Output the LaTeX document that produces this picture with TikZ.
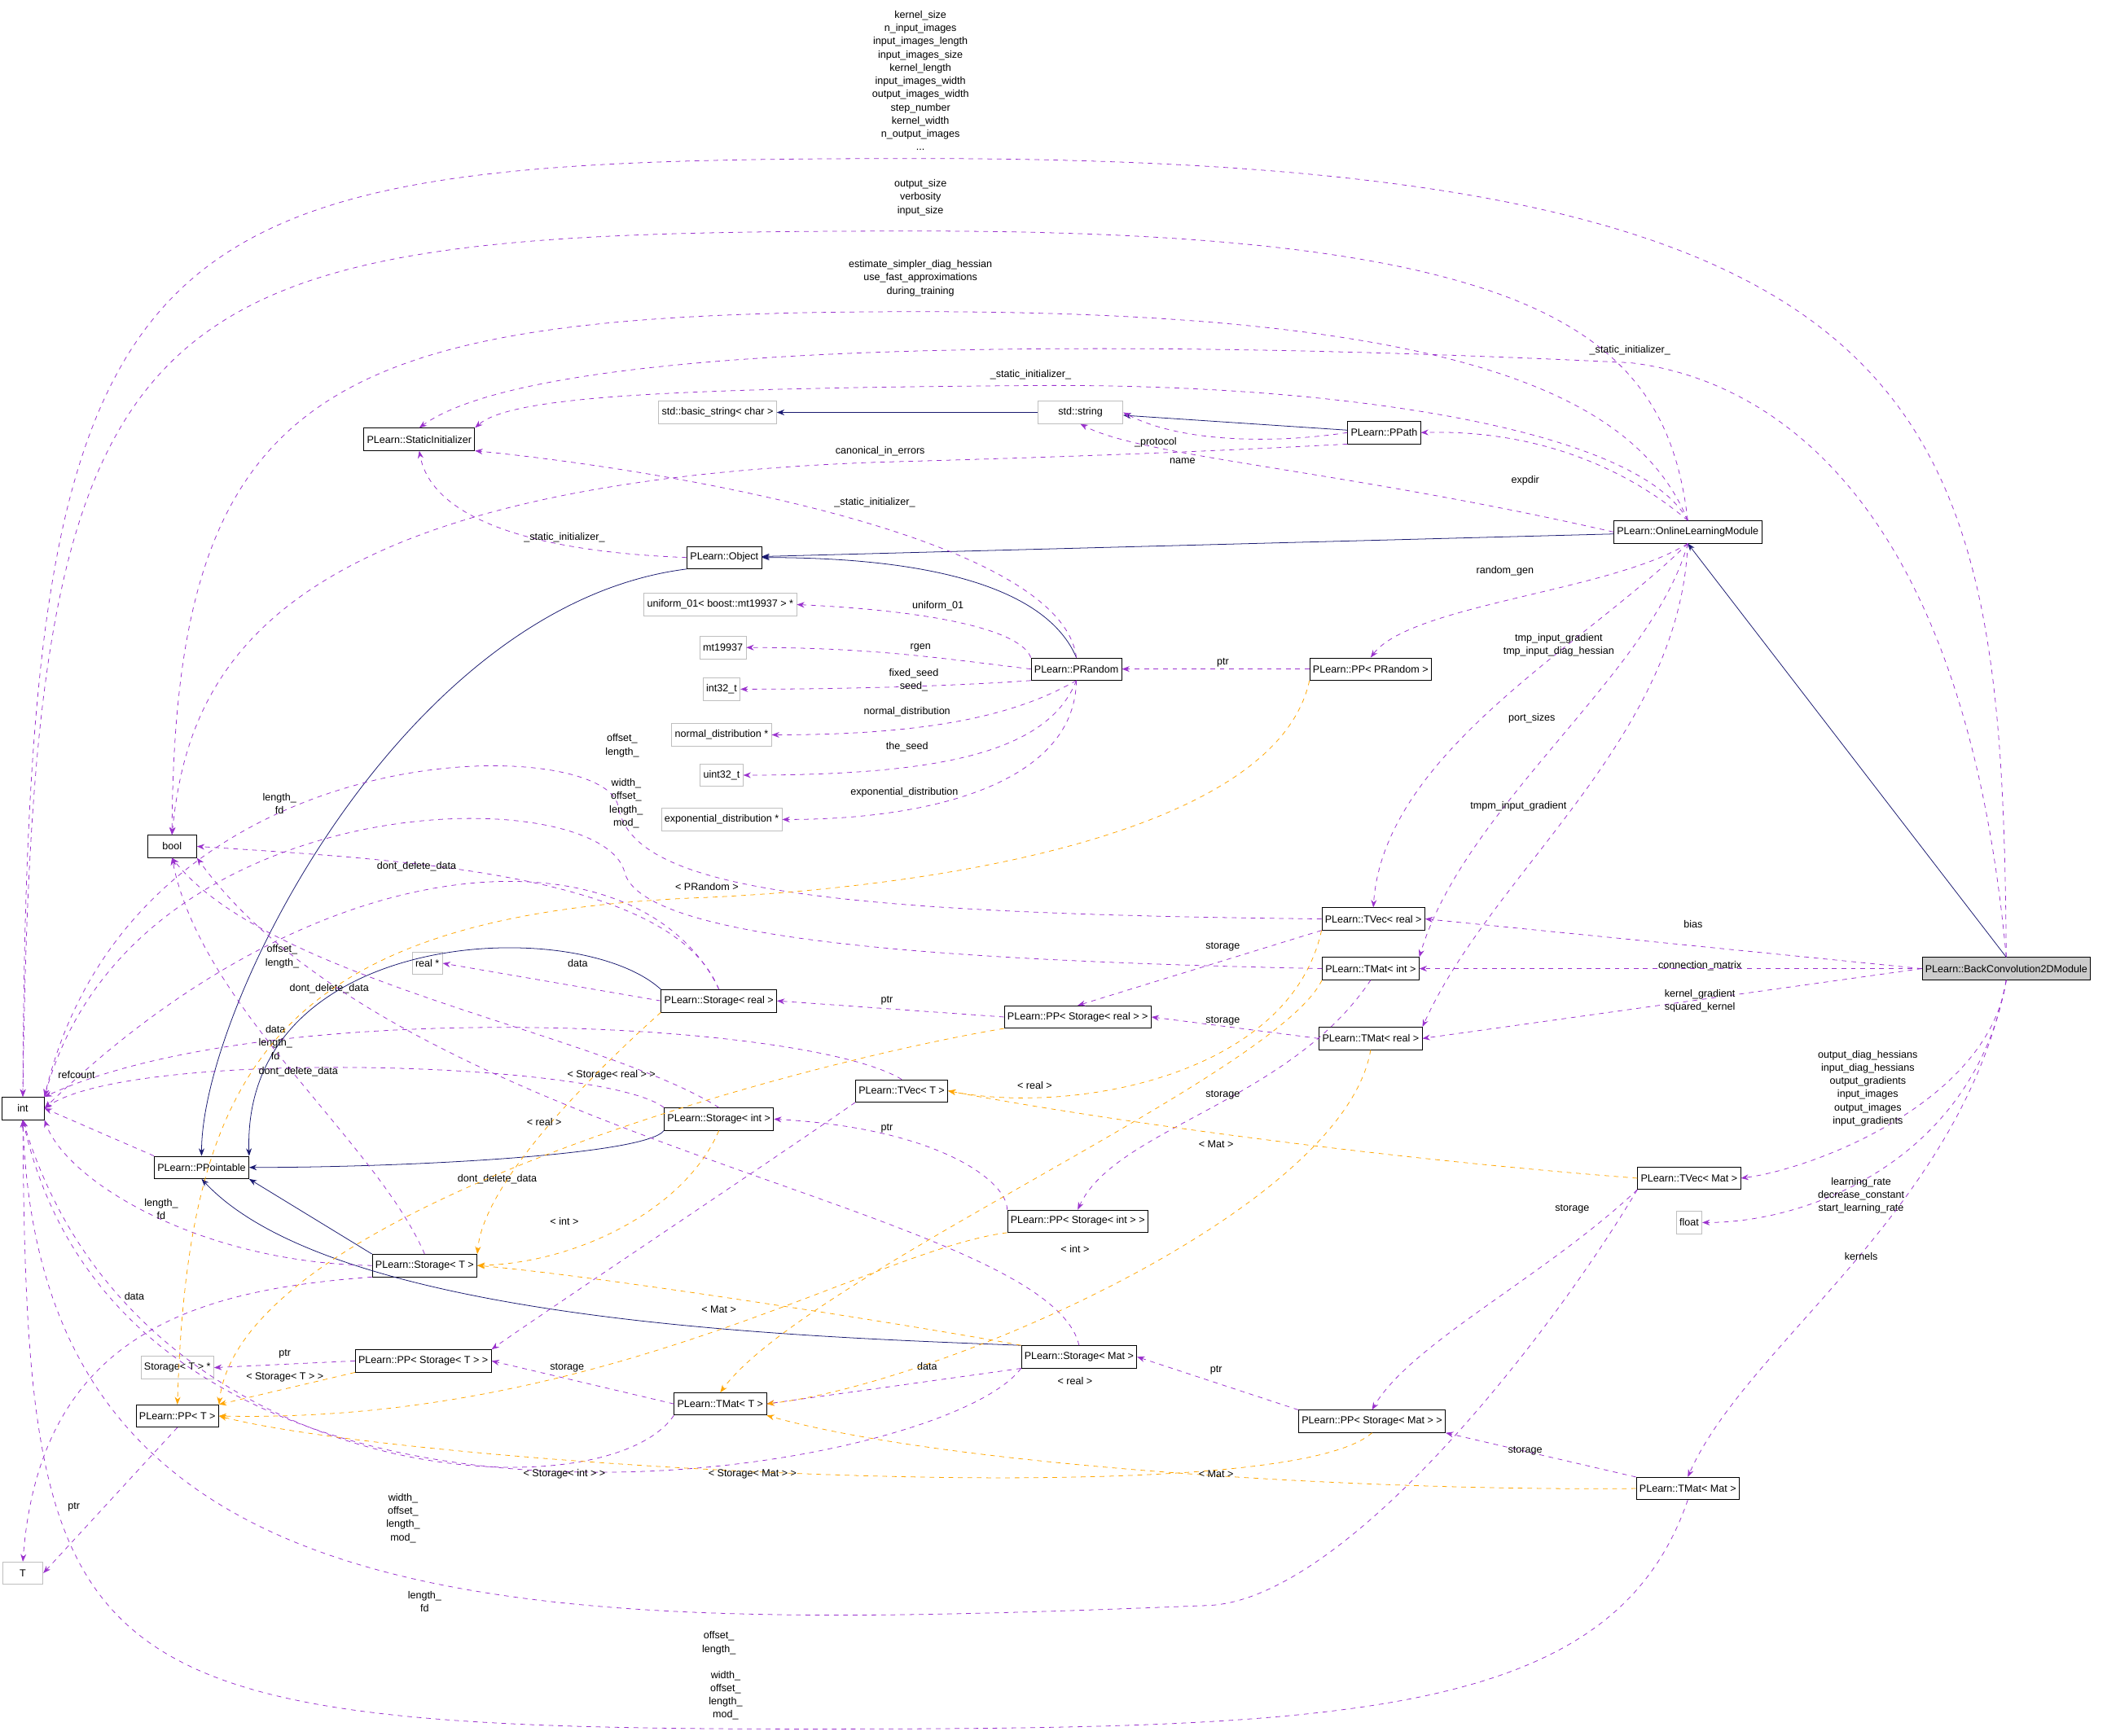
\documentclass[tikz,border=0pt]{standalone}
\usepackage{fontspec}
\setmainfont{Liberation Sans}
\usetikzlibrary{arrows.meta}
\definecolor{usecol}{HTML}{9A32CD}
\definecolor{inhcol}{HTML}{191970}
\definecolor{tplcol}{HTML}{FFA500}
\tikzstyle{box}=[draw, fill=white, font=\fontsize{6.5}{8}\selectfont, inner sep=2pt, minimum height=0.5cm]
\tikzstyle{gbox}=[box, draw=gray!50]
\tikzstyle{lbl}=[font=\fontsize{6.5}{8.4}\selectfont, align=center, inner sep=0pt]
\tikzstyle{inh}=[draw=inhcol, -{Stealth[inhcol]}]
\tikzstyle{use}=[draw=usecol, dashed, -{Stealth[usecol]}]
\tikzstyle{tpl}=[draw=tplcol, dashed, -{Stealth[tplcol]}]

\begin{document}
\begin{tikzpicture}[x=0.03cm, y=-0.03cm]
\useasboundingbox (0,0) rectangle (1568,1292);
% nodes
\node[box, minimum width=0.95cm] (int) at (17,825) {int};
\node[gbox, minimum width=0.9cm] (T) at (17,1171) {T};
\node[box, minimum width=1.1cm] (bool) at (128,630) {bool};
\node[box] (si) at (312,327) {PLearn::StaticInitializer};
\node[gbox] (bstr) at (534,307) {std::basic\_string< char >};
\node[gbox, minimum width=1.9cm] (str) at (804,307) {std::string};
\node[box] (ppath) at (1030,322) {PLearn::PPath};
\node[box] (olm) at (1256,396) {PLearn::OnlineLearningModule};
\node[box] (obj) at (539,415) {PLearn::Object};
\node[gbox] (unif) at (536,450) {uniform\_01< boost::mt19937 > *};
\node[gbox] (mt) at (538,482) {mt19937};
\node[gbox] (i32) at (537,513) {int32\_t};
\node[gbox] (nd) at (537,547) {normal\_distribution *};
\node[gbox] (u32) at (537,577) {uint32\_t};
\node[gbox] (ed) at (537,610) {exponential\_distribution *};
\node[box] (prand) at (801,498) {PLearn::PRandom};
\node[box] (pprand) at (1020,498) {PLearn::PP< PRandom >};
\node[box] (tvr) at (1022,684) {PLearn::TVec< real >};
\node[box] (tmi) at (1020,721) {PLearn::TMat< int >};
\node[box, fill=gray!40] (bc) at (1493,721) {PLearn::BackConvolution2DModule};
\node[box] (tmr) at (1020,773) {PLearn::TMat< real >};
\node[gbox] (realp) at (318,717) {real *};
\node[box] (sr) at (535,745) {PLearn::Storage< real >};
\node[box] (pssr) at (802,757) {PLearn::PP< Storage< real > >};
\node[box] (tvt) at (671,812) {PLearn::TVec< T >};
\node[box] (sint) at (535,833) {PLearn::Storage< int >};
\node[box] (ppt) at (150,869) {PLearn::PPointable};
\node[box] (tvm) at (1257,877) {PLearn::TVec< Mat >};
\node[gbox] (flt) at (1257,910) {float};
\node[box] (pssi) at (802,909) {PLearn::PP< Storage< int > >};
\node[box] (st) at (316,942) {PLearn::Storage< T >};
\node[gbox] (stp) at (132,1018) {Storage< T > *};
\node[box] (psst) at (315,1013) {PLearn::PP< Storage< T > >};
\node[box] (ppT) at (132,1054) {PLearn::PP< T >};
\node[box] (sm) at (803,1010) {PLearn::Storage< Mat >};
\node[box] (tmt) at (536,1045) {PLearn::TMat< T >};
\node[box] (pssm) at (1021,1058) {PLearn::PP< Storage< Mat > >};
\node[box] (tmm) at (1256,1108) {PLearn::TMat< Mat >};
% inheritance
\draw[inh] (str) -- (bstr);
\draw[inh] (ppath) -- (str);
\draw[inh] (olm) -- (obj);
\draw[inh] (bc.north) -- (olm.south);
\draw[inh] (prand.north) .. controls (780,440) and (700,415) .. (obj.east);
\draw[inh] (obj.south west) .. controls (300,450) and (150,750) .. (ppt.north);
\draw[inh] (sr.north west) .. controls (430,680) and (180,690) .. (ppt.north east);
\draw[inh] (sint.south west) .. controls (480,860) and (300,869) .. (ppt.east);
\draw[inh] (st.north west) -- (ppt.south east);
\draw[inh] (sm.north west) .. controls (600,995) and (250,985) .. (ppt.south);
% members
\draw[use] (bc.north) .. controls (1490,300) and (1450,118) .. (685,118) .. controls (100,118) and (20,150) .. (int.north)
  node[lbl, at={(685,60)}] {kernel\_size\\n\_input\_images\\input\_images\_length\\input\_images\_size\\kernel\_length\\input\_images\_width\\output\_images\_width\\step\_number\\kernel\_width\\n\_output\_images\\...};
\draw[use] (olm.north) .. controls (1240,250) and (1150,172) .. (685,172) .. controls (100,172) and (25,200) .. (int.north)
  node[lbl, at={(685,147)}] {output\_size\\verbosity\\input\_size};
\draw[use] (olm.north) .. controls (1220,300) and (1100,232) .. (685,232) .. controls (250,232) and (130,280) .. (bool.north)
  node[lbl, at={(685,207)}] {estimate\_simpler\_diag\_hessian\\use\_fast\_approximations\\during\_training};
\draw[use] (bc.north) .. controls (1460,350) and (1300,280) .. (1213,270) .. controls (800,250) and (400,255) .. (si.north)
  node[lbl, at={(1213,261)}] {\_static\_initializer\_};
\draw[use] (olm.north) .. controls (1220,320) and (1000,285) .. (767,287) .. controls (500,289) and (380,295) .. (si.north east)
  node[lbl, at={(767,279)}] {\_static\_initializer\_};
\draw[use] (ppath.west) .. controls (950,330) and (880,330) .. (str.east) node[lbl, at={(860,329)}] {\_protocol};
\draw[use] (ppath.south west) .. controls (900,336) and (800,340) .. (655,344) .. controls (200,360) and (140,500) .. (bool.north)
  node[lbl, at={(655,336)}] {canonical\_in\_errors};
\draw[use] (olm.west) .. controls (1000,350) and (850,340) .. (str.south) node[lbl, at={(880,343)}] {name};
\draw[use] (olm.north) .. controls (1200,340) and (1130,320) .. (ppath.east) node[lbl, at={(1135,358)}] {expdir};
\draw[use] (prand.north) .. controls (790,400) and (500,350) .. (si.south east) node[lbl, at={(651,374)}] {\_static\_initializer\_};
\draw[use] (obj.west) .. controls (380,410) and (320,380) .. (si.south) node[lbl, at={(420,400)}] {\_static\_initializer\_};
\draw[use] (olm.south) .. controls (1200,440) and (1050,450) .. (pprand.north) node[lbl, at={(1120,425)}] {random\_gen};
\draw[use] (prand.north west) .. controls (760,470) and (700,455) .. (unif.east) node[lbl, at={(698,451)}] {uniform\_01};
\draw[use] (prand.west) .. controls (700,490) and (650,482) .. (mt.east) node[lbl, at={(685,482)}] {rgen};
\draw[use] (prand.south west) .. controls (720,510) and (640,513) .. (i32.east) node[lbl, at={(680,506)}] {fixed\_seed\\seed\_};
\draw[use] (prand.south) .. controls (760,530) and (700,547) .. (nd.east) node[lbl, at={(675,530)}] {normal\_distribution};
\draw[use] (prand.south) .. controls (780,560) and (700,577) .. (u32.east) node[lbl, at={(675,556)}] {the\_seed};
\draw[use] (prand.south) .. controls (800,580) and (700,610) .. (ed.east) node[lbl, at={(673,590)}] {exponential\_distribution};
\draw[use] (pprand) -- (prand) node[lbl, at={(910,493)}] {ptr};
\draw[use] (olm.south) .. controls (1180,480) and (1030,560) .. (tvr.north) node[lbl, at={(1160,480)}] {tmp\_input\_gradient\\tmp\_input\_diag\_hessian};
\draw[use] (olm.south) .. controls (1230,500) and (1090,600) .. (tmi.north east) node[lbl, at={(1140,535)}] {port\_sizes};
\draw[use] (olm.south) .. controls (1250,550) and (1110,650) .. (tmr.north east) node[lbl, at={(1130,600)}] {tmpm\_input\_gradient};
\draw[use] (tvr.west) .. controls (600,680) and (470,660) .. (460,600) .. controls (450,545) and (100,540) .. (int.north east)
  node[lbl, at={(463,555)}] {offset\_\\length\_};
\draw[use] (tmi.west) .. controls (700,715) and (480,700) .. (465,650) .. controls (450,580) and (100,580) .. (int.north east)
  node[lbl, at={(466,598)}] {width\_\\offset\_\\length\_\\mod\_};
\draw[use] (sr.north) .. controls (480,620) and (250,615) .. (int.east) node[lbl, at={(208,598)}] {length\_\\fd};
\draw[use] (sr.north) .. controls (500,650) and (300,640) .. (bool.east) node[lbl, at={(310,645)}] {dont\_delete\_data};
\draw[use] (bc.west) -- (tvr.east) node[lbl, at={(1260,688)}] {bias};
\draw[use] (bc.west) -- (tmi.east) node[lbl, at={(1265,719)}] {connection\_matrix};
\draw[use] (bc.west) -- (tmr.east) node[lbl, at={(1265,745)}] {kernel\_gradient\\squared\_kernel};
\draw[use] (tvr.south west) -- (pssr.north) node[lbl, at={(910,705)}] {storage};
\draw[use] (sr.west) -- (realp.east) node[lbl, at={(430,717)}] {data};
\draw[use] (pssr.west) -- (sr.east) node[lbl, at={(660,745)}] {ptr};
\draw[use] (tmr.west) -- (pssr.east) node[lbl, at={(910,760)}] {storage};
\draw[use] (tvt.north) .. controls (600,760) and (200,740) .. (int.north east) node[lbl, at={(210,712)}] {offset\_\\length\_};
\draw[use] (sint.north west) .. controls (450,790) and (100,780) .. (int.east) node[lbl, at={(205,776)}] {data\\length\_\\fd};
\draw[use] (sint.north) .. controls (450,770) and (200,730) .. (bool.south) node[lbl, at={(245,736)}] {dont\_delete\_data};
\draw[use] (tmi.south) .. controls (960,820) and (830,840) .. (pssi.north) node[lbl, at={(910,815)}] {storage};
\draw[use] (ppt.north west) -- (int.east) node[lbl, at={(57,800)}] {refcount};
\draw[use] (bc.south) .. controls (1480,820) and (1350,870) .. (tvm.east)
  node[lbl, at={(1390,810)}] {output\_diag\_hessians\\input\_diag\_hessians\\output\_gradients\\input\_images\\output\_images\\input\_gradients};
\draw[use] (bc.south) .. controls (1470,860) and (1350,910) .. (flt.east) node[lbl, at={(1385,890)}] {learning\_rate\\decrease\_constant\\start\_learning\_rate};
\draw[use] (bc.south) .. controls (1460,900) and (1300,1000) .. (tmm.north) node[lbl, at={(1385,935)}] {kernels};
\draw[use] (pssi.north west) .. controls (750,880) and (700,840) .. (sint.east) node[lbl, at={(660,840)}] {ptr};
\draw[use] (st.west) .. controls (150,940) and (50,880) .. (int.south east) node[lbl, at={(120,900)}] {length\_\\fd};
\draw[use] (st.north) .. controls (280,850) and (150,750) .. (bool.south) node[lbl, at={(222,798)}] {dont\_delete\_data};
\draw[use] (sm.north) .. controls (780,900) and (300,850) .. (bool.south east) node[lbl, at={(370,878)}] {dont\_delete\_data};
\draw[use] (st.south west) .. controls (150,960) and (30,990) .. (T.north) node[lbl, at={(100,965)}] {data};
\draw[use] (tvm.south west) .. controls (1150,950) and (1050,1000) .. (pssm.north) node[lbl, at={(1170,900)}] {storage};
\draw[use] (sm.south west) -- (tmt.east) node[lbl, at={(690,1017)}] {data};
\draw[use] (tmt.west) -- (psst.east) node[lbl, at={(422,1018)}] {storage};
\draw[use] (psst.west) -- (stp.east) node[lbl, at={(212,1008)}] {ptr};
\draw[use] (pssm.north west) -- (sm.east) node[lbl, at={(905,1020)}] {ptr};
\draw[use] (tmm.north west) -- (pssm.south east) node[lbl, at={(1135,1080)}] {storage};
\draw[use] (ppT.south) -- (T.east) node[lbl, at={(55,1122)}] {ptr};
\draw[use] (tmt.south west) .. controls (450,1130) and (100,1110) .. (int.south) node[lbl, at={(300,1130)}] {width\_\\offset\_\\length\_\\mod\_};
\draw[use] (sm.south west) .. controls (700,1100) and (100,1200) .. (int.south) node[lbl, at={(316,1192)}] {length\_\\fd};
\draw[use] (tvm.south west) .. controls (1150,1000) and (1000,1190) .. (900,1195) .. controls (400,1215) and (30,1220) .. (int.south)
  node[lbl, at={(535,1223)}] {offset\_\\length\_};
\draw[use] (tmm.south) .. controls (1200,1280) and (1000,1287) .. (600,1287) .. controls (50,1287) and (20,1250) .. (int.south)
  node[lbl, at={(540,1262)}] {width\_\\offset\_\\length\_\\mod\_};
\draw[use] (tvt.south west) .. controls (580,860) and (400,980) .. (psst.north east);
% template instances
\draw[tpl] (pprand.south west) .. controls (950,620) and (700,660) .. (526,668) .. controls (200,680) and (140,800) .. (ppT.north)
  node[lbl, at={(526,660)}] {< PRandom >};
\draw[tpl] (pssr.south west) .. controls (600,790) and (180,900) .. (ppT.north east) node[lbl, at={(455,800)}] {< Storage< real > >};
\draw[tpl] (sr.south west) .. controls (440,800) and (360,880) .. (st.north east) node[lbl, at={(405,835)}] {< real >};
\draw[tpl] (sint.south) .. controls (510,900) and (430,940) .. (st.east) node[lbl, at={(420,909)}] {< int >};
\draw[tpl] (sm.north west) .. controls (700,990) and (450,950) .. (st.east) node[lbl, at={(535,975)}] {< Mat >};
\draw[tpl] (tvr.south west) .. controls (960,800) and (800,830) .. (tvt.east) node[lbl, at={(770,808)}] {< real >};
\draw[tpl] (tvm.west) .. controls (1000,860) and (800,830) .. (tvt.east) node[lbl, at={(905,852)}] {< Mat >};
\draw[tpl] (tmi.south west) .. controls (950,800) and (600,950) .. (tmt.north) node[lbl, at={(800,930)}] {< int >};
\draw[tpl] (tmr.south) .. controls (1000,900) and (700,1030) .. (tmt.east) node[lbl, at={(800,1028)}] {< real >};
\draw[tpl] (tmm.west) .. controls (1000,1110) and (700,1090) .. (tmt.south east) node[lbl, at={(905,1097)}] {< Mat >};
\draw[tpl] (pssi.south west) .. controls (650,930) and (450,1060) .. (ppT.east) node[lbl, at={(420,1097)}] {< Storage< int > >};
\draw[tpl] (pssm.south) .. controls (950,1130) and (300,1090) .. (ppT.east) node[lbl, at={(560,1097)}] {< Storage< Mat > >};
\draw[tpl] (psst.south west) -- (ppT.north east) node[lbl, at={(212,1025)}] {< Storage< T > >};
\end{tikzpicture}
\end{document}
